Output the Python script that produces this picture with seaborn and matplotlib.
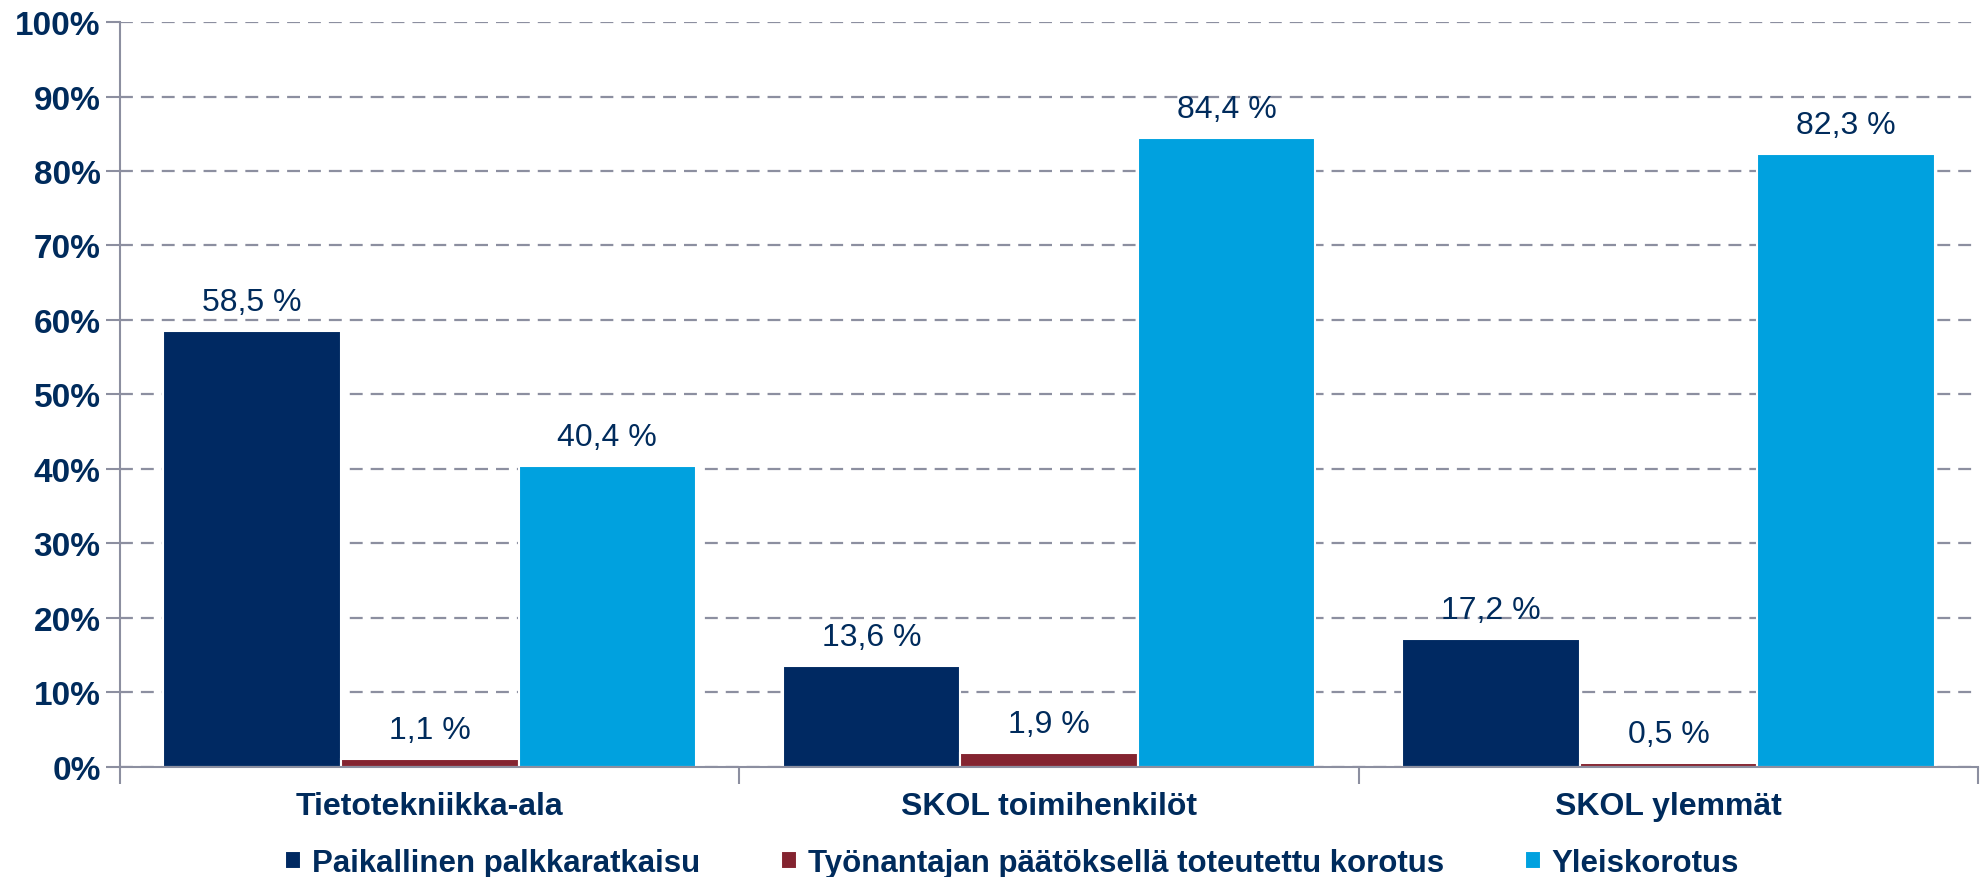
import pandas as pd
import seaborn as sns
import matplotlib.pyplot as plt
from matplotlib.ticker import FuncFormatter

# data
groups = ["Tietotekniikka-ala", "SKOL toimihenkilöt", "SKOL ylemmät"]
series = ["Paikallinen palkkaratkaisu",
          "Työnantajan päätöksellä toteutettu korotus",
          "Yleiskorotus"]
paikallinen = [58.5, 13.6, 17.2]
tyonantaja = [1.1, 1.9, 0.5]
yleis = [40.4, 84.4, 82.3]

colors = ["#002962", "#842430", "#00A1DF"]
navy = "#002B5C"
gridc = "#8C8FA0"

df = pd.DataFrame({
    "ryhmä": groups * 3,
    "sarja": [series[0]] * 3 + [series[1]] * 3 + [series[2]] * 3,
    "arvo": paikallinen + tyonantaja + yleis,
})

sns.set_style("white")
plt.rcParams['font.family'] = ['Liberation Sans', 'DejaVu Sans']

fig = plt.figure(figsize=(19.85, 8.78), dpi=100)
ax = fig.add_axes([0.0605, 0.1253, 0.936, 0.8485])

sns.barplot(data=df, x="ryhmä", y="arvo", hue="sarja", order=groups,
            hue_order=series, palette=colors, width=0.86, saturation=1, ax=ax,
            edgecolor="white", linewidth=1.5, legend=True)

# value labels
for cont in ax.containers:
    ax.bar_label(cont, labels=[f"{v:.1f} %".replace(".", ",") for v in cont.datavalues],
                 padding=10, fontsize=23, color=navy)

ax.set_xlim(-0.5, 2.5)
ax.set_ylim(0, 100)
ax.set_yticks(range(0, 101, 10))
ax.yaxis.set_major_formatter(FuncFormatter(lambda v, p: f"{int(v)}%"))
ax.grid(axis='y', linestyle=(0, (5.8, 3.6)), color=gridc, linewidth=1.6)
ax.set_axisbelow(True)

# category boundaries as ticks
ax.set_xticks([-0.5, 0.5, 1.5, 2.5])
ax.set_xticklabels([])
ax.set_xticks([0, 1, 2], minor=True)
ax.tick_params(axis='x', which='major', bottom=True, length=12, width=1.5,
               color=gridc, direction='out')
ax.tick_params(axis='x', which='minor', bottom=True, length=0, pad=17,
               labelsize=23, labelcolor=navy)
ax.set_xticklabels(groups, minor=True, fontsize=23, fontweight='bold', color=navy)
ax.tick_params(axis='y', left=True, length=10, width=1.5, color=gridc,
               direction='out', pad=4, labelsize=24, labelcolor=navy)
for t in ax.get_yticklabels():
    t.set_fontweight('bold')

ax.set_xlabel("")
ax.set_ylabel("")
for s in ["top", "right"]:
    ax.spines[s].set_visible(False)
for s in ["left", "bottom"]:
    ax.spines[s].set_color(gridc)
    ax.spines[s].set_linewidth(1.5)

handles, labels = ax.get_legend_handles_labels()
ax.get_legend().remove()
leg = fig.legend(handles, labels, loc='center', bbox_to_anchor=(0.51, 0.016),
                 ncol=3, frameon=False, handlelength=0.5, handleheight=0.5,
                 handletextpad=0.35, columnspacing=2.6,
                 prop={'size': 22.5, 'weight': 'bold'})
for t in leg.get_texts():
    t.set_color(navy)

fig.savefig("out.png", dpi=100)
